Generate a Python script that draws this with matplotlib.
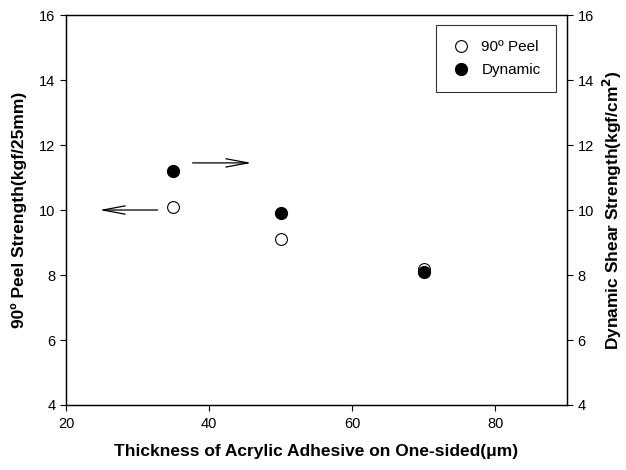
import numpy as np
import matplotlib.pyplot as plt

plt.rcParams['font.family'] = ['Liberation Sans', 'DejaVu Sans']

thickness = [35, 50, 70]
peel = [10.1, 9.1, 8.2]
dynamic = [11.2, 9.9, 8.1]

fig = plt.figure(figsize=(6.26, 4.7), dpi=100)
ax = fig.add_axes([0.1054, 0.1383, 0.8004, 0.8297])
ax2 = ax.twinx()

p1, = ax.plot(thickness, peel, 'o', mfc='white', mec='black', mew=0.8, ms=8.5, label='90º Peel')
p2, = ax2.plot(thickness, dynamic, 'o', mfc='black', mec='black', ms=8.5, label='Dynamic')

ax.set_xlim(20, 90)
ax.set_ylim(4, 16)
ax2.set_ylim(4, 16)
ax.set_xticks([20, 40, 60, 80])
ax.set_yticks(np.arange(4, 17, 2))
ax2.set_yticks(np.arange(4, 17, 2))

for a in (ax, ax2):
    a.tick_params(direction='out', length=4, width=0.8, labelsize=10.5)
    for s in a.spines.values():
        s.set_linewidth(0.9)
ax.tick_params(axis='x', pad=5)

ax.set_xlabel('Thickness of Acrylic Adhesive on One-sided(μm)', fontsize=12.5, fontweight='bold', labelpad=9)
ax.set_ylabel('90º Peel Strength(kgf/25mm)', fontsize=12.5, fontweight='bold', labelpad=9)
ax2.set_ylabel('Dynamic Shear Strength(kgf/cm$^\\mathbf{2}$)', fontsize=12.5, fontweight='bold', labelpad=5)

# arrows pointing to the matching axis
arrow = dict(arrowstyle='->, head_length=1.6, head_width=0.3', color='black', lw=0.9)
ax.annotate('', xy=(24.3, 10.0), xytext=(33.2, 10.0), arrowprops=arrow)
ax.annotate('', xy=(46.3, 11.45), xytext=(37.3, 11.45), arrowprops=arrow)

leg = ax2.legend(handles=[p1, p2], loc='upper right', bbox_to_anchor=(0.993, 0.995),
                 fancybox=False, edgecolor='black', fontsize=11, handletextpad=0.7,
                 borderpad=1.0, labelspacing=0.6, handlelength=1.3)
leg.get_frame().set_linewidth(0.8)

fig.savefig('out.png', dpi=100)
